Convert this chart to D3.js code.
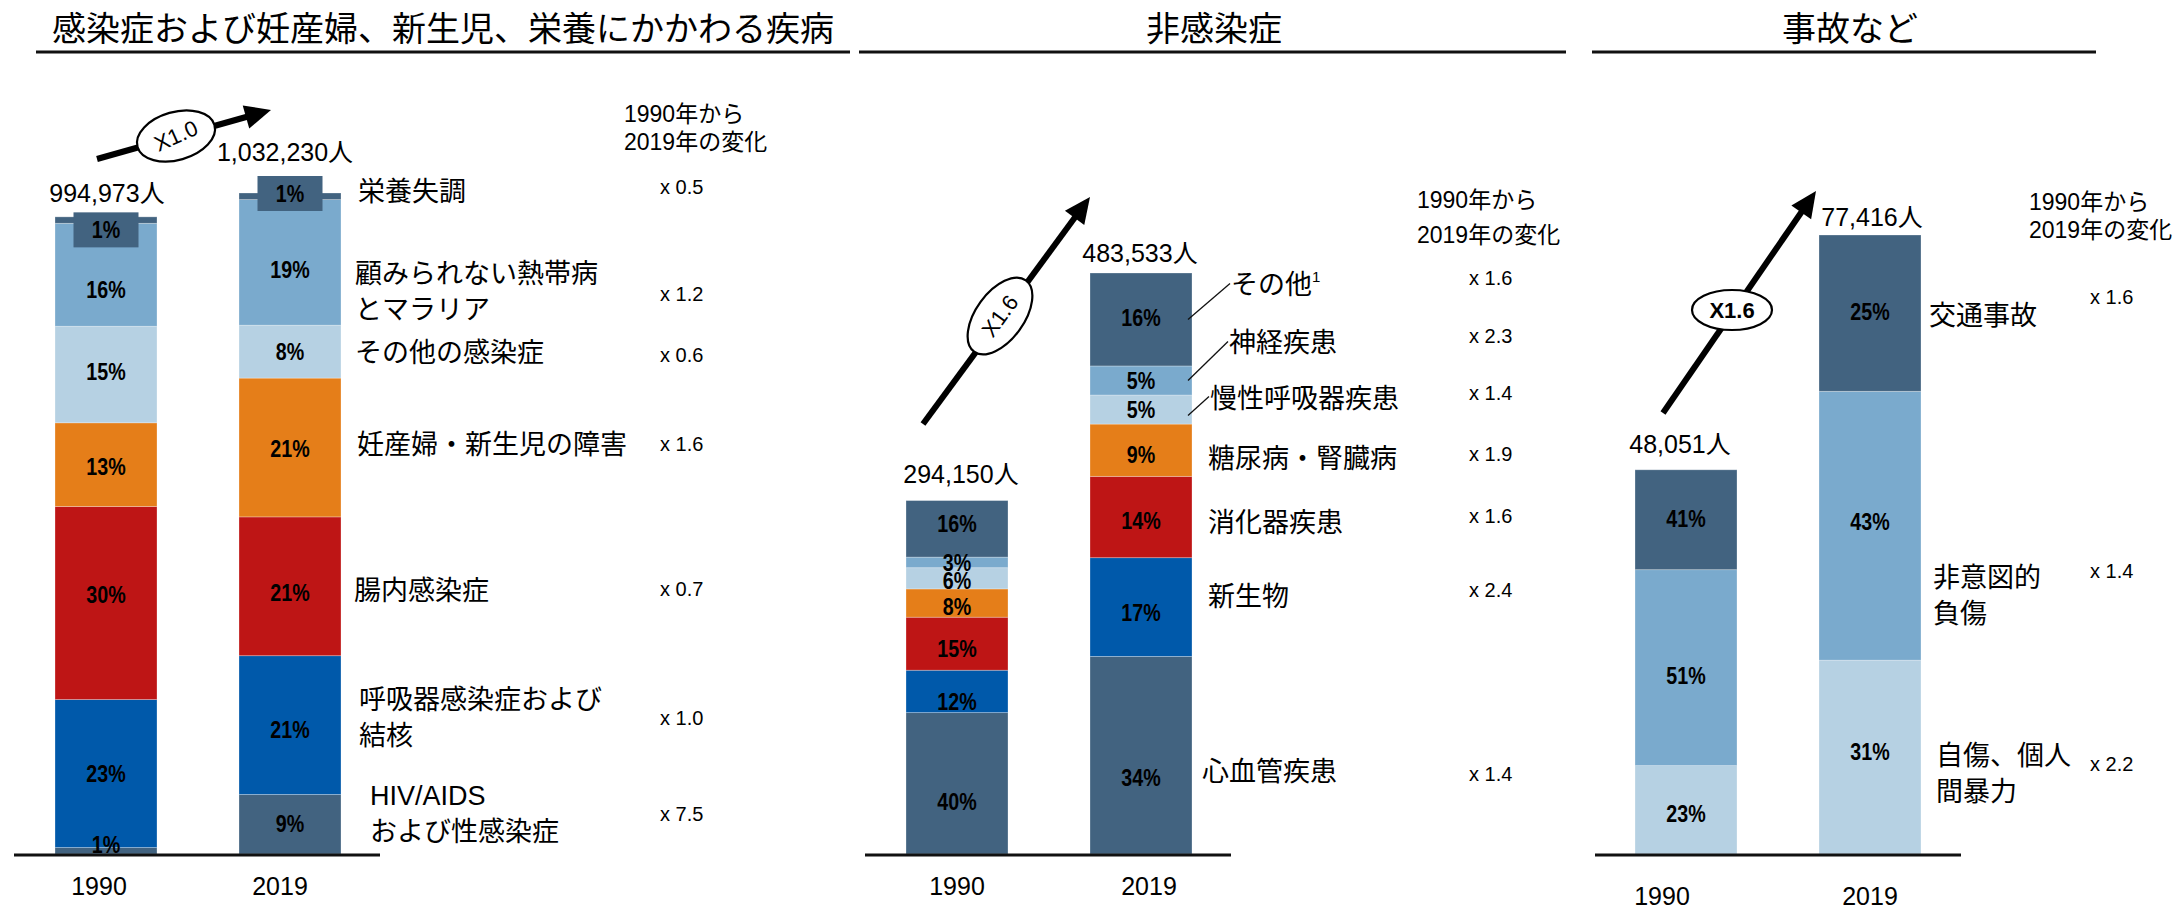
<!DOCTYPE html>
<html><head><meta charset="utf-8">
<script src="https://cdn.jsdelivr.net/npm/d3@7"></script>
<style>body{margin:0;background:#fff;}svg{display:block;}</style>
</head><body>
<svg id="chart" width="2176" height="910"></svg>
<script>
// ================= DATA =================
const panelTitles = ["感染症および妊産婦、新生児、栄養にかかわる疾病", "非感染症", "事故など"];
const years = ["1990", "2019"];
const changeHeader = ["1990年から", "2019年の変化"];

// Panel 1 (bottom -> top)
const infCauses = ["HIV/AIDS\nおよび性感染症", "呼吸器感染症および\n結核", "腸内感染症", "妊産婦・新生児の障害", "その他の感染症", "顧みられない熱帯病\nとマラリア", "栄養失調"];
const infTotals = [994973, 1032230];
const inf1990 = [1, 23, 30, 13, 15, 16, 1];
const inf2019 = [9, 21, 21, 21, 8, 19, 1];
const infChange = ["x 7.5", "x 1.0", "x 0.7", "x 1.6", "x 0.6", "x 1.2", "x 0.5"];
const infGrowth = "X1.0";

// Panel 2 (bottom -> top)
const ncdCauses = ["心血管疾患", "新生物", "消化器疾患", "糖尿病・腎臓病", "慢性呼吸器疾患", "神経疾患", "その他"];
const ncdTotals = [294150, 483533];
const ncd1990 = [40, 12, 15, 8, 6, 3, 16];
const ncd2019 = [34, 17, 14, 9, 5, 5, 16];
const ncdChange = ["x 1.4", "x 2.4", "x 1.6", "x 1.9", "x 1.4", "x 2.3", "x 1.6"];
const ncdGrowth = "X1.6";

// Panel 3 (bottom -> top)
const injCauses = ["自傷、個人\n間暴力", "非意図的\n負傷", "交通事故"];
const injTotals = [48051, 77416];
const inj1990 = [23, 51, 26];                    // segment shares as drawn
const inj1990Labels = ["23%", "51%", "41%"];     // labels as printed
const inj2019 = [31, 43, 25];
const injChange = ["x 2.2", "x 1.4", "x 1.6"];
const injGrowth = "X1.6";

// ================= STYLE / LAYOUT =================
const C = {dark:"#426380", blue:"#0059aa", red:"#be1515", orange:"#e57e19", light:"#b6d1e3", mid:"#7aaacd"};
const BASE = 854;
const BAR_STEP = 184, BAR_W = 102;

function fontAvailable(f){
  const c = document.createElement("canvas").getContext("2d");
  c.font = "40px monospace"; const w0 = c.measureText("0123456789abcXYZ").width;
  c.font = `40px '${f}', monospace`; const w1 = c.measureText("0123456789abcXYZ").width;
  return Math.abs(w0 - w1) > 0.5;
}
const HAS_NARROW = fontAvailable("Liberation Sans Narrow");
const SANS = "'Liberation Sans', 'Noto Sans CJK JP', sans-serif";
const NARROW = "'Liberation Sans Narrow', 'Noto Sans CJK JP', sans-serif";

const pct = arr => arr.map(v => v + "%");

const panels = [
  { title: panelTitles[0], causes: infCauses, totals: infTotals, shares: [inf1990, inf2019],
    labels: [pct(inf1990), pct(inf2019)], change: infChange, growth: infGrowth,
    colors: [C.dark, C.blue, C.red, C.orange, C.light, C.mid, C.dark],
    x0: 55, top: 193, titleX: 443, lineX: [36, 850], axisX: [14, 380],
    headerX: 624, headerY: [114, 142],
    labelX: [370, 359, 354, 357, 355, 355, 358], labelDy: [-10, -7, 5, -2, 1, 30, -4],
    multX: 660, multDy: [-10, -7, 3, -3, 3, 32, -9],
    totalDy: [-24, -41], totalDx: [1, -5], yearY: 886, yearDx: [-7, -10],
    pctDy: [[-6, 0, -8, 2, -3, 15, 0], [0, 5, 7, 1, 0, 7, 0]],
    topBox: {index: 6, w: 65, h: 35, dy: [13, 0.5]},
    arrow: {from: [97, 159], to: [271, 110], c: [176, 136], rx: 40, ry: 24, rot: -16, textRot: -24, bold: false},
    leaders: [] },
  { title: panelTitles[1], causes: ncdCauses, totals: ncdTotals, shares: [ncd1990, ncd2019],
    labels: [pct(ncd1990), pct(ncd2019)], change: ncdChange, growth: ncdGrowth,
    colors: [C.dark, C.blue, C.red, C.orange, C.light, C.mid, C.dark],
    x0: 906, top: 273, titleX: 1214, lineX: [859, 1566], axisX: [865, 1231],
    headerX: 1417, headerY: [200, 235],
    labelX: [1202, 1208, 1208, 1208, 1210, 1229, 1231], labelDy: [17, -10, 6, 9, -11, -37, -34],
    multX: 1469, multDy: [19, -17, -1, 4, -17, -44, -41],
    totalDy: [-27, -20], totalDx: [4, -1], yearY: 886, yearDx: [0, 8],
    pctDy: [[18, 10, 5, 4, 2, 0, -5], [23, 6, 4, 5, 0, 0, -2]],
    topBox: null, sup: {index: 6, text: "1"},
    arrow: {from: [923, 424], to: [1090, 197], c: [1000, 316], rx: 44, ry: 24, rot: -54, textRot: -54, bold: false},
    leaders: [{index: 4, dy: 6}, {index: 5, dy: 0}, {index: 6, dy: 0}] },
  { title: panelTitles[2], causes: injCauses, totals: injTotals, shares: [inj1990, inj2019],
    labels: [inj1990Labels, pct(inj2019)], change: injChange, growth: injGrowth,
    colors: [C.light, C.mid, C.dark],
    x0: 1635, top: 235, titleX: 1850, lineX: [1592, 2096], axisX: [1595, 1961],
    headerX: 2029, headerY: [202, 230],
    labelX: [1936, 1933, 1929], labelDy: [17, 70, 3],
    multX: 2090, multDy: [7, 45, -16],
    totalDy: [-26, -18], totalDx: [-6, 2], yearY: 896, yearDx: [-24, 0],
    pctDy: [[4, 8, -1], [-5, -4, -1]],
    topBox: null,
    arrow: {from: [1663, 413], to: [1816, 191], c: [1732, 310], rx: 40, ry: 20, rot: 0, textRot: 0, bold: true},
    leaders: [] }
];

// ================= HELPERS =================
const svg = d3.select("#chart");
const fmt = d3.format(",");

function txt(g, x, y, s, o = {}) {
  const narrowFallback = o.narrow && !HAS_NARROW;
  let tr = `translate(${x},${y})`;
  if (o.rot) tr += ` rotate(${o.rot})`;
  if (narrowFallback) tr += " scale(0.82,1)";
  const t = g.append("text").attr("transform", tr)
    .attr("font-size", o.size || 24)
    .attr("font-weight", o.bold ? "bold" : "normal")
    .attr("text-anchor", o.anchor || "middle")
    .attr("dominant-baseline", "central")
    .attr("fill", "#000")
    .attr("font-family", o.family || (o.narrow && HAS_NARROW ? NARROW : SANS))
    .text(s);
  return t;
}

// ================= DRAW =================
panels.forEach(p => {
  const g = svg.append("g");
  const n = p.causes.length;

  // title + underline
  txt(g, p.titleX, 26, p.title, {size: 34, family: "'Noto Sans CJK JP', sans-serif"});
  g.append("line").attr("x1", p.lineX[0]).attr("x2", p.lineX[1]).attr("y1", 52).attr("y2", 52)
    .attr("stroke", "#111").attr("stroke-width", 3);

  // scales
  const x = d3.scaleBand().domain(years).range([p.x0, p.x0 + BAR_STEP + BAR_W])
    .paddingInner(1 - BAR_W / BAR_STEP).paddingOuter(0);
  const y = d3.scaleLinear().domain([0, d3.max(p.totals)]).range([BASE, p.top]);

  // stacked rows normalised to each bar's total
  const rows = years.map((yr, i) => {
    const s = p.shares[i], sum = d3.sum(s), o = {year: yr, i};
    s.forEach((v, k) => o[k] = v / sum * p.totals[i]);
    return o;
  });
  const series = d3.stack().keys(d3.range(n))(rows);

  series.forEach((ser, k) => {
    g.selectAll(null).data(ser).join("rect")
      .attr("x", d => x(d.data.year))
      .attr("width", x.bandwidth())
      .attr("y", d => y(d[1]))
      .attr("height", d => y(d[0]) - y(d[1]))
      .attr("fill", p.colors[k])
      .attr("stroke", "rgba(255,255,255,0.35)").attr("stroke-width", 0.8);
  });

  // percentage labels
  series.forEach((ser, k) => {
    ser.forEach((d, i) => {
      const cx = x(d.data.year) + x.bandwidth() / 2;
      if (p.topBox && p.topBox.index === k) {
        const cy = y(d[1]) + p.topBox.dy[i];
        g.append("rect").attr("x", cx - p.topBox.w / 2).attr("y", cy - p.topBox.h / 2)
          .attr("width", p.topBox.w).attr("height", p.topBox.h).attr("fill", C.dark);
        txt(g, cx, cy, p.labels[i][k], {size: 24, bold: true, narrow: true});
      } else {
        const cy = (y(d[0]) + y(d[1])) / 2 + p.pctDy[i][k];
        txt(g, cx, cy, p.labels[i][k], {size: 24, bold: true, narrow: true});
      }
    });
  });

  // axis baseline
  g.append("line").attr("x1", p.axisX[0]).attr("x2", p.axisX[1]).attr("y1", BASE + 1).attr("y2", BASE + 1)
    .attr("stroke", "#111").attr("stroke-width", 3);

  // year labels
  years.forEach((yr, i) => txt(g, x(yr) + x.bandwidth() / 2 + p.yearDx[i], p.yearY, yr, {size: 25}));

  // totals
  years.forEach((yr, i) => txt(g, x(yr) + x.bandwidth() / 2 + p.totalDx[i], y(p.totals[i]) + p.totalDy[i],
    fmt(p.totals[i]) + "人", {size: 25}));

  // cause labels and change multipliers (positioned against 2019 segments)
  const last = years.length - 1;
  series.forEach((ser, k) => {
    const d = ser[last];
    const cy = (y(d[0]) + y(d[1])) / 2;
    const lines = p.causes[k].split("\n");
    const ly = cy + p.labelDy[k];
    lines.forEach((ln, j) => {
      const t = txt(g, p.labelX[k], ly + (j - (lines.length - 1) / 2) * 36, ln, {size: 27, anchor: "start"});
      if (p.sup && p.sup.index === k) {
        t.append("tspan").attr("font-size", 15).attr("dy", -9).text(p.sup.text);
      }
    });
    txt(g, p.multX, cy + p.multDy[k], p.change[k], {size: 20, anchor: "start"});
  });

  // leader lines
  p.leaders.forEach(L => {
    const d = series[L.index][last];
    const cy = (y(d[0]) + y(d[1])) / 2;
    const x1 = x(years[last]) + x.bandwidth() - 4;
    g.append("line").attr("x1", x1).attr("y1", cy + L.dy)
      .attr("x2", p.labelX[L.index] - 1).attr("y2", cy + p.labelDy[L.index] - 2)
      .attr("stroke", "#111").attr("stroke-width", 1.3);
  });

  // header
  changeHeader.forEach((h, j) => txt(g, p.headerX, p.headerY[j], h, {size: 23, anchor: "start"}));

  // growth arrow
  const a = p.arrow;
  const dx = a.to[0] - a.from[0], dy = a.to[1] - a.from[1];
  const len = Math.hypot(dx, dy), ux = dx / len, uy = dy / len;
  const headL = 26, headW = 12;
  const bx = a.to[0] - ux * headL, by = a.to[1] - uy * headL;
  g.append("line").attr("x1", a.from[0]).attr("y1", a.from[1]).attr("x2", bx + ux * 2).attr("y2", by + uy * 2)
    .attr("stroke", "#000").attr("stroke-width", 6);
  g.append("path").attr("d", d3.line()([[a.to[0], a.to[1]], [bx - uy * headW, by + ux * headW], [bx + uy * headW, by - ux * headW]]) + "Z")
    .attr("fill", "#000");
  g.append("ellipse").attr("cx", 0).attr("cy", 0).attr("rx", a.rx).attr("ry", a.ry)
    .attr("transform", `translate(${a.c[0]},${a.c[1]}) rotate(${a.rot})`)
    .attr("fill", "#fff").attr("stroke", "#000").attr("stroke-width", 2.2);
  txt(g, a.c[0], a.c[1], p.growth, {size: 22, bold: a.bold, rot: a.textRot});
});
</script>
</body></html>
